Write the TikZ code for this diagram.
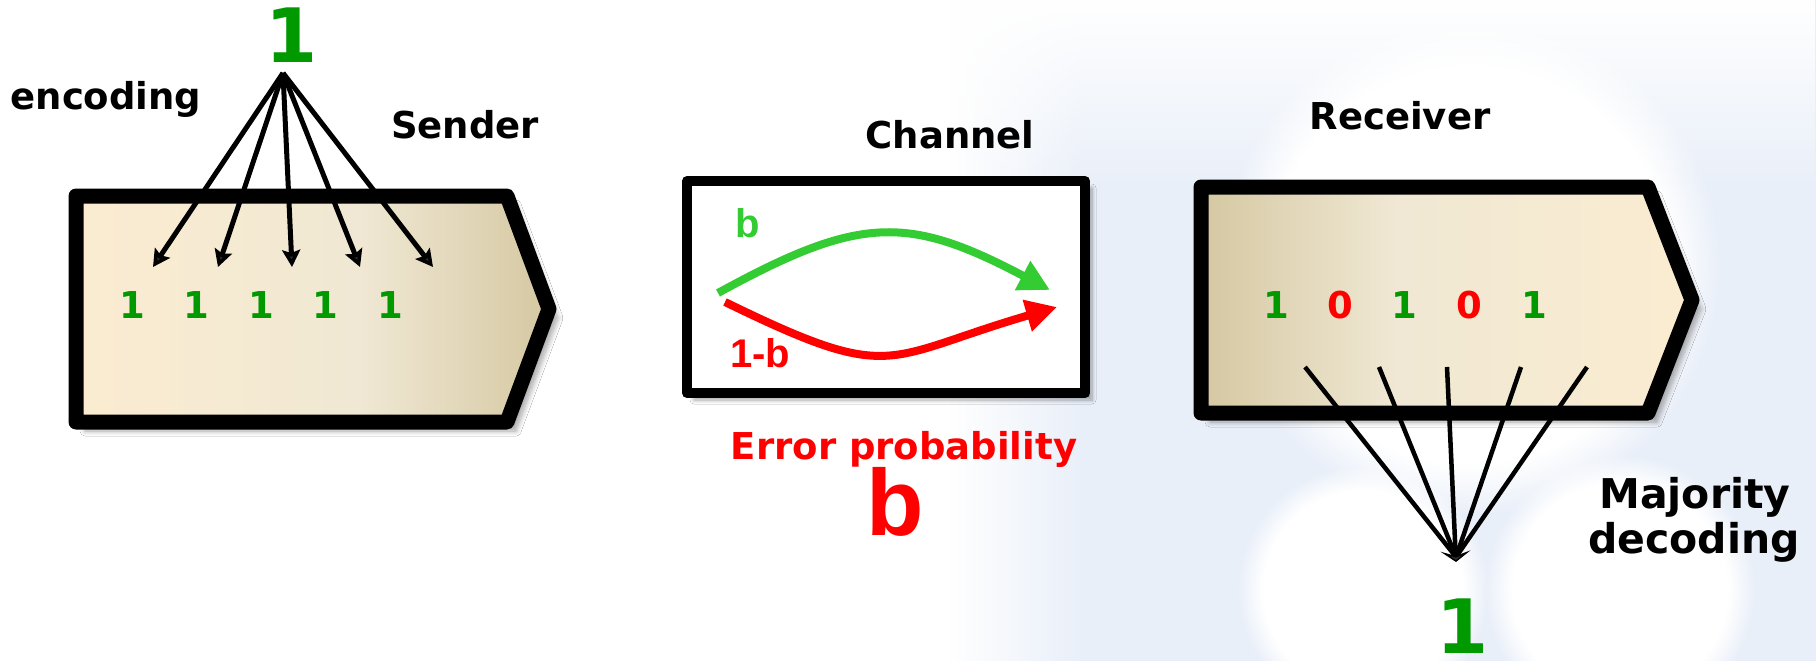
\documentclass[tikz,border=0pt]{standalone}
\usepackage{fontspec}
\setmainfont{DejaVu Sans}
\newfontfamily\arialf{Liberation Sans}
\usetikzlibrary{arrows.meta,shadows.blur,fadings}
\definecolor{dgreen}{HTML}{009900}
\definecolor{lgreen}{HTML}{33CC33}
\definecolor{tanL}{RGB}{251,236,208}
\definecolor{tanM}{RGB}{240,232,212}
\definecolor{tanR}{RGB}{213,200,162}
\definecolor{bluebg}{RGB}{233,239,249}
\pgfdeclarehorizontalshading{sendshade}{100bp}{color(0bp)=(tanL); color(25bp)=(tanL); color(55bp)=(tanM); color(75bp)=(tanR); color(100bp)=(tanR)}
\pgfdeclarehorizontalshading{recvshade}{100bp}{color(0bp)=(tanR); color(25bp)=(tanR); color(45bp)=(tanM); color(75bp)=(tanL); color(100bp)=(tanL)}
\newcommand\fsz[1]{\fontsize{#1}{#1}\selectfont}
\begin{document}
\begin{tikzpicture}[x=1pt,y=-1pt,
  lbl/.style={inner sep=0pt, anchor=base, font=\bfseries\fsz{37}},
  digit/.style={inner sep=0pt, anchor=base, font=\bfseries\fsz{37}},
  big/.style={inner sep=0pt, anchor=base, font=\bfseries\fsz{75}, text=dgreen},
  boxline/.style={draw=black, line width=15pt, line join=round,
    blur shadow={shadow xshift=9pt, shadow yshift=-9pt, shadow blur radius=5pt, shadow blur steps=8, shadow opacity=35}},
  encarrow/.style={line width=5pt, -{Stealth[length=17pt,width=18pt,inset=3pt]}},
  decline/.style={line width=4.5pt},
  chanarrow/.style={line width=8pt, -{Triangle[length=31pt,width=31pt]}},
  blobfill/.style={white, path fading=circle with fuzzy edge 20 percent}
]
\useasboundingbox (0,0) rectangle (1816,661);
% background watermark
\fill[white] (0,0) rectangle (1816,661);
\fill[bluebg] (950,0) rectangle (1816,661);
\fill[white, path fading=east] (949,0) rectangle (1085,661);
\fill[white, path fading=south] (949,-1) rectangle (1817,190);
\fill[blobfill] (1470,265) circle (250);
\fill[blobfill] (1363,590) circle (125);
\fill[blobfill] (1620,590) circle (135);

% Sender box
\path[boxline, shading=sendshade] (76,196) -- (507,196) -- (549,309) -- (507,422) -- (76,422) -- cycle;
% Channel box
\path[draw=black, line width=10pt, line join=round, fill=white,
  blur shadow={shadow xshift=7pt, shadow yshift=-7pt, shadow blur radius=4pt, shadow blur steps=8, shadow opacity=35}]
  (687,181) rectangle (1085,393);
% Receiver box
\path[boxline, shading=recvshade] (1201,187) -- (1648,187) -- (1692,300) -- (1648,413) -- (1201,413) -- cycle;

% Texts
\node[lbl] (enc) at (106,110) {encoding};
\node[lbl] (sender) at (465,138) {Sender};
\node[lbl] (channel) at (950,148) {Channel};
\node[lbl] (receiver) at (1400,129) {Receiver};
\node[lbl, font=\bfseries\fsz{41}] (maj) at (1695,508) {Majority};
\node[lbl, font=\bfseries\fsz{41}] (dec) at (1694,553) {decoding};
\node[big] (top1) at (292,63) {1};
\node[big] (bot1) at (1463,653) {1};

% sender digits
\foreach \x [count=\i] in {132,196,261,325,390}
  \node[digit, text=dgreen] (s\i) at (\x,318) {1};
% receiver digits
\node[digit, text=dgreen] (r1) at (1276,318) {1};
\node[digit, text=red]    (r2) at (1340,318) {0};
\node[digit, text=dgreen] (r3) at (1404,318) {1};
\node[digit, text=red]    (r4) at (1469,318) {0};
\node[digit, text=dgreen] (r5) at (1534,318) {1};

% encoding fan
\coordinate (encsrc) at (283,73);
\coordinate (e1) at (153,267);
\coordinate (e2) at (218,267);
\coordinate (e3) at (292,267);
\coordinate (e4) at (360,267);
\coordinate (e5) at (433,267);
\foreach \i in {1,...,5} \draw[encarrow] (encsrc) -- (e\i);

% decoding fan
\coordinate (d1) at (1305,367);
\coordinate (d2) at (1379,367);
\coordinate (d3) at (1447,367);
\coordinate (d4) at (1521,367);
\coordinate (d5) at (1587,367);
\coordinate (decpt) at (1456,557);
\coordinate (dectip) at (1456,562);
\foreach \i in {1,2,4,5} \draw[decline] (d\i) -- (decpt);
\draw[decline, -{Stealth[length=11pt,width=30pt,inset=5pt]}] (d3) -- (dectip);

% channel arrows
\coordinate (gs) at (718,293);
\coordinate (ge) at (1050,290);
\coordinate (rs) at (725,302);
\coordinate (re) at (1057,307);
\draw[lgreen, chanarrow] (gs) .. controls (860,215) and (908,215) .. (ge);
\draw[red, chanarrow] (rs) .. controls (895,385) and (882,358) .. (re);
\node[inner sep=0pt, anchor=base, font=\arialf\bfseries\fsz{40}, text=lgreen] (lb) at (748,237) {b};
\node[inner sep=0pt, anchor=base, font=\arialf\bfseries\fsz{40}, text=red] (l1b) at (760,367) {1-b};
\node[lbl, text=red] (err) at (904,459) {Error probability};
\node[inner sep=0pt, anchor=base, font=\arialf\bfseries\fsz{94}, text=red] (bigb) at (895,535) {b};
\end{tikzpicture}
\end{document}
